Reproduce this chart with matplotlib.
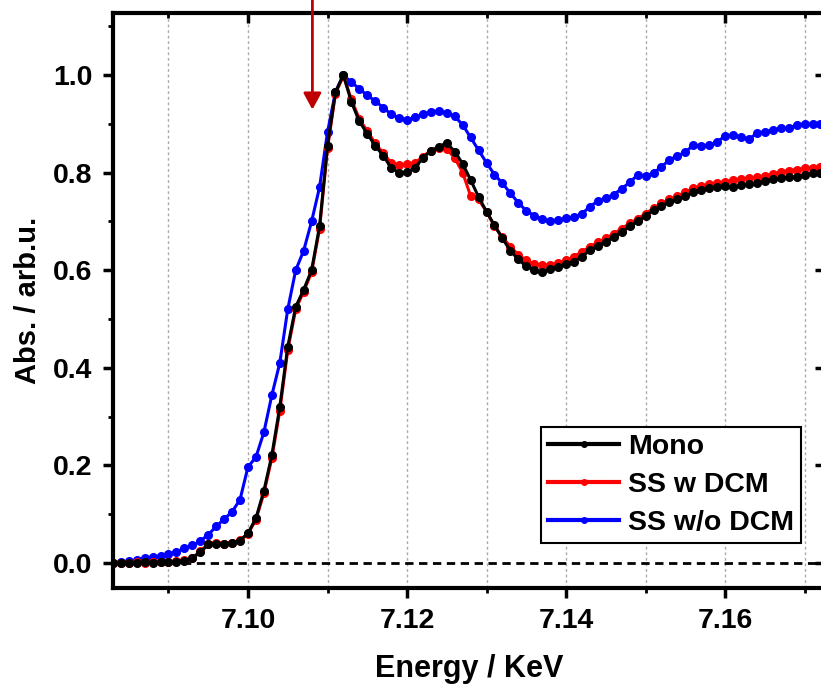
import matplotlib
matplotlib.use("Agg")
import matplotlib.pyplot as plt
from matplotlib.ticker import MultipleLocator

plt.rcParams['font.family'] = ['Liberation Sans', 'DejaVu Sans']
plt.rcParams['font.weight'] = 'bold'

# Photon energy grid (keV), 1 eV steps
energy = [e / 1000.0 for e in range(7083, 7173)]

mono = [
    0.000, 0.000, 0.001, 0.000, 0.002, 0.001, 0.002, 0.002, 0.003, 0.005,   # 7083-7092
    0.010, 0.022, 0.038, 0.040, 0.039, 0.041, 0.046, 0.061, 0.092, 0.148,   # 7093-7102
    0.221, 0.320, 0.443, 0.525, 0.560, 0.600, 0.690, 0.855, 0.965, 1.000,   # 7103-7112
    0.945, 0.905, 0.880, 0.855, 0.835, 0.810, 0.800, 0.801, 0.810, 0.830,   # 7113-7122
    0.845, 0.853, 0.861, 0.843, 0.818, 0.785, 0.750, 0.720, 0.692, 0.665,   # 7123-7132
    0.640, 0.622, 0.608, 0.600, 0.596, 0.603, 0.607, 0.612, 0.617, 0.628,   # 7133-7142
    0.641, 0.650, 0.658, 0.668, 0.678, 0.690, 0.700, 0.712, 0.723, 0.732,   # 7143-7152
    0.740, 0.746, 0.752, 0.760, 0.765, 0.769, 0.771, 0.772, 0.770, 0.774,   # 7153-7162
    0.777, 0.779, 0.782, 0.786, 0.789, 0.791, 0.792, 0.795, 0.799, 0.800,   # 7163-7172
]

ss_dcm = [
    0.000, 0.001, 0.000, 0.002, 0.001, 0.002, 0.003, 0.002, 0.004, 0.006,   # 7083-7092
    0.011, 0.024, 0.040, 0.042, 0.040, 0.042, 0.047, 0.060, 0.089, 0.143,   # 7093-7102
    0.215, 0.312, 0.436, 0.520, 0.556, 0.596, 0.685, 0.850, 0.962, 0.998,   # 7103-7112
    0.950, 0.910, 0.885, 0.860, 0.840, 0.820, 0.815, 0.818, 0.820, 0.833,   # 7113-7122
    0.845, 0.850, 0.848, 0.830, 0.800, 0.752, 0.745, 0.720, 0.690, 0.668,   # 7123-7132
    0.648, 0.632, 0.620, 0.613, 0.610, 0.611, 0.615, 0.620, 0.628, 0.638,   # 7133-7142
    0.648, 0.658, 0.665, 0.675, 0.685, 0.696, 0.705, 0.716, 0.727, 0.737,   # 7143-7152
    0.745, 0.752, 0.760, 0.768, 0.772, 0.776, 0.779, 0.781, 0.784, 0.786,   # 7153-7162
    0.789, 0.790, 0.793, 0.797, 0.801, 0.804, 0.806, 0.809, 0.810, 0.811,   # 7163-7172
]

ss_no_dcm = [
    0.001, 0.002, 0.004, 0.006, 0.010, 0.012, 0.015, 0.018, 0.023, 0.030,   # 7083-7092
    0.036, 0.045, 0.058, 0.075, 0.090, 0.105, 0.130, 0.197, 0.217, 0.268,   # 7093-7102
    0.344, 0.410, 0.520, 0.600, 0.640, 0.700, 0.770, 0.883, 0.965, 1.000,   # 7103-7112
    0.985, 0.972, 0.958, 0.947, 0.933, 0.920, 0.912, 0.908, 0.913, 0.920,   # 7113-7122
    0.924, 0.926, 0.922, 0.915, 0.898, 0.872, 0.846, 0.820, 0.796, 0.778,   # 7123-7132
    0.758, 0.738, 0.722, 0.712, 0.704, 0.700, 0.702, 0.706, 0.709, 0.716,   # 7133-7142
    0.730, 0.742, 0.748, 0.755, 0.767, 0.780, 0.795, 0.793, 0.799, 0.812,   # 7143-7152
    0.826, 0.834, 0.842, 0.856, 0.855, 0.856, 0.863, 0.875, 0.877, 0.873,   # 7153-7162
    0.868, 0.881, 0.883, 0.887, 0.891, 0.891, 0.897, 0.900, 0.899, 0.899,   # 7163-7172
]

labels = ["Mono", "SS w DCM", "SS w/o DCM"]
colors = ["black", "#ff0000", "#0000ff"]

fig = plt.figure(figsize=(8.21, 6.87), dpi=100)
ax = fig.add_axes([0.138, 0.1448, 0.867, 0.8366])

# vertical dotted grid at every 0.01 keV
for gx in [7.09, 7.10, 7.11, 7.12, 7.13, 7.14, 7.15, 7.16, 7.17]:
    ax.axvline(gx, color="#aaaaaa", lw=1.0, ls=(0, (2, 2)), zorder=0)

ax.axhline(0.0, color="black", lw=2.0, ls=(0, (3, 2)), zorder=1)

series = [(ss_no_dcm, 2), (ss_dcm, 1), (mono, 0)]
handles = {}
for vals, i in series:
    ln, = ax.plot(energy, vals, color=colors[i], lw=2.2, marker="o",
                  markersize=5.5, label=labels[i], zorder=3 + (2 - i))
    handles[i] = ln

ax.set_xlim(7.08306, 7.17258)
ax.set_ylim(-0.0502, 1.1275)

ax.xaxis.set_major_locator(MultipleLocator(0.02))
ax.xaxis.set_minor_locator(MultipleLocator(0.01))
ax.yaxis.set_major_locator(MultipleLocator(0.2))
ax.yaxis.set_minor_locator(MultipleLocator(0.1))
ax.xaxis.set_major_formatter(plt.FormatStrFormatter('%.2f'))
ax.yaxis.set_major_formatter(plt.FormatStrFormatter('%.1f'))

for sp in ax.spines.values():
    sp.set_linewidth(3.0)

ax.tick_params(axis="both", which="major", labelsize=20.5, width=2.5, length=7,
               direction="out", pad=8)
ax.tick_params(axis="both", which="minor", width=2.0, length=3.5, direction="out")
ax.tick_params(axis="x", which="both", top=True)
ax.tick_params(axis="y", which="both", right=True)
for t in ax.xaxis.get_major_ticks() + ax.xaxis.get_minor_ticks():
    t.tick2line.set_marker(3)  # top ticks point inward
ax.tick_params(axis="y", which="minor", right=False)
for t in ax.yaxis.get_major_ticks():
    t.tick2line.set_marker(0)  # right ticks point inward

ax.set_xlabel("Energy / KeV", fontsize=22, fontweight="bold", labelpad=14)
ax.set_ylabel("Abs. / arb.u.", fontsize=21, fontweight="bold", labelpad=8)

leg = ax.legend(handles=[handles[0], handles[1], handles[2]], labels=labels,
                loc="lower left", bbox_to_anchor=(0.601, 0.077),
                fontsize=20.5, frameon=True, fancybox=False, framealpha=1,
                edgecolor="black", handlelength=2.5, handletextpad=0.3,
                labelspacing=0.42, borderpad=0.25, borderaxespad=0)
leg.get_frame().set_linewidth(1.5)
for h in leg.legend_handles:
    h.set_markersize(4)
    h.set_linewidth(3)

ax.annotate("", xy=(7.1081, 0.929), xytext=(7.1081, 1.16),
            xycoords="data", textcoords="data", annotation_clip=False,
            arrowprops=dict(arrowstyle="-|>,head_length=0.5,head_width=0.27",
                            mutation_scale=20, color="#c00000", lw=2,
                            shrinkA=0, shrinkB=0))

fig.savefig("out.png", dpi=100)
